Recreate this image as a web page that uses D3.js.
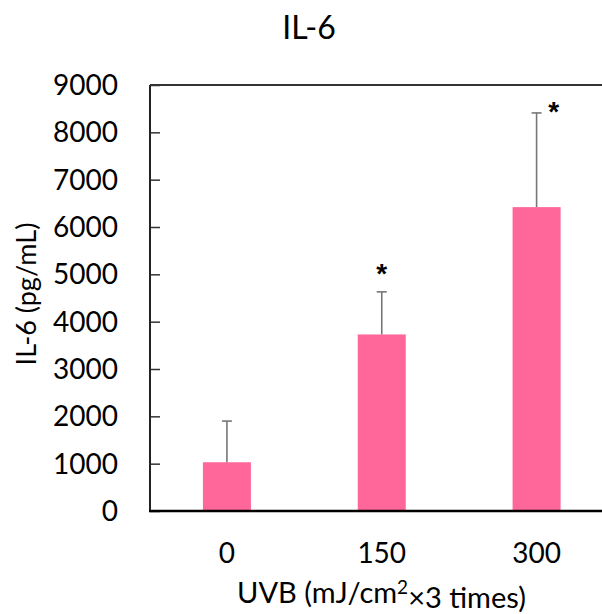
<!DOCTYPE html>
<html>

<head>
    <meta charset="utf-8">
    <style>
        body {
            margin: 0;
            background: #fff;
        }

        svg {
            display: block;
            font-family: Lato, 'Open Sans', sans-serif;
        }
    </style>
</head>

<body>
    <svg width="602" height="614"></svg>
</body>

<script src="https://d3js.org/d3.v7.min.js"></script>

<script>

    // chart data
    let doses = ["0", "150", "300"];
    let means = [1030, 3730, 6420];
    let sds = [870, 900, 1990];
    let significant = [false, true, true];
    let yTicks = [0, 1000, 2000, 3000, 4000, 5000, 6000, 7000, 8000, 9000];

    let rows = doses.map((d, i) => ({ dose: d, mean: means[i], sd: sds[i], sig: significant[i] }));

    let svg = d3.select("svg");

    let margin = { left: 150, top: 85, bottom: 511 };

    // the plot runs past the right edge of the picture, like the original
    let x = d3.scaleBand()
        .domain(doses)
        .range([149.5, 614])
        .paddingInner(0.69)
        .paddingOuter(0.345);

    let y = d3.scaleLinear()
        .domain([0, 9000])
        .range([margin.bottom, margin.top]);

    // bars
    svg.append("g")
        .selectAll("rect")
        .data(rows)
        .join("rect")
        .attr("x", d => x(d.dose))
        .attr("width", x.bandwidth())
        .attr("y", d => y(d.mean))
        .attr("height", d => y(0) - y(d.mean))
        .style("fill", "#ff6699");

    // error bars (upper only)
    let err = svg.append("g")
        .style("stroke", "#777")
        .style("stroke-width", 1.6);

    err.selectAll(".stem")
        .data(rows)
        .join("line")
        .attr("class", "stem")
        .attr("x1", d => x(d.dose) + x.bandwidth() / 2)
        .attr("x2", d => x(d.dose) + x.bandwidth() / 2)
        .attr("y1", d => y(d.mean))
        .attr("y2", d => y(d.mean + d.sd));

    err.selectAll(".cap")
        .data(rows)
        .join("line")
        .attr("class", "cap")
        .attr("x1", d => x(d.dose) + x.bandwidth() / 2 - 5)
        .attr("x2", d => x(d.dose) + x.bandwidth() / 2 + 5)
        .attr("y1", d => y(d.mean + d.sd))
        .attr("y2", d => y(d.mean + d.sd));

    // asterisks: above the cap if there is room, else up and to the right of it
    let roomAbove = d => y(d.mean + d.sd) - 40 > margin.top;

    svg.append("g")
        .selectAll("text")
        .data(rows.filter(d => d.sig))
        .join("text")
        .attr("x", d => {
            let cx = x(d.dose) + x.bandwidth() / 2;
            return roomAbove(d) ? cx : cx + 17;
        })
        .attr("y", d => {
            let top = y(d.mean + d.sd);
            return roomAbove(d) ? top - 25 + 16 : top - 8 + 16;
        })
        .attr("text-anchor", "middle")
        .style("font-family", "'Liberation Sans', Arial, sans-serif")
        .style("font-weight", "bold")
        .style("font-size", "28px")
        .style("fill", "#000")
        .text("*");

    // y axis, ticks pointing inward
    let yAxis = svg.append("g")
        .attr("transform", "translate(" + margin.left + ",0)")
        .call(d3.axisRight(y).tickValues(yTicks).tickSize(10).tickFormat(""));

    yAxis.select(".domain").remove();
    yAxis.selectAll(".tick line")
        .style("stroke", "#333")
        .style("stroke-width", 1.5);

    svg.append("g")
        .selectAll("text")
        .data(yTicks)
        .join("text")
        .attr("x", 118)
        .attr("y", d => y(d))
        .attr("dy", "0.36em")
        .attr("text-anchor", "end")
        .style("font-size", "28px")
        .style("fill", "#000")
        .text(d => d);

    // axis lines and top border
    svg.append("line")
        .attr("x1", margin.left).attr("x2", margin.left)
        .attr("y1", y(9000)).attr("y2", y(0))
        .style("stroke", "#222").style("stroke-width", 2);

    svg.append("line")
        .attr("x1", margin.left).attr("x2", 614)
        .attr("y1", y(9000)).attr("y2", y(9000))
        .style("stroke", "#333").style("stroke-width", 2);

    svg.append("line")
        .attr("x1", margin.left - 1).attr("x2", 614)
        .attr("y1", y(0)).attr("y2", y(0))
        .style("stroke", "#000").style("stroke-width", 2.5);

    // x tick labels
    svg.append("g")
        .selectAll("text")
        .data(doses)
        .join("text")
        .attr("x", d => x(d) + x.bandwidth() / 2)
        .attr("y", 563)
        .attr("text-anchor", "middle")
        .style("font-size", "28px")
        .style("fill", "#000")
        .text(d => d);

    // x title with superscript
    let xt = svg.append("text")
        .attr("x", 381.5)
        .attr("y", 603)
        .attr("text-anchor", "middle")
        .style("font-size", "29px")
        .style("fill", "#000");
    xt.append("tspan").text("UVB (mJ/cm");
    xt.append("tspan").attr("dy", "-0.45em").style("font-size", "19px").text("2");
    xt.append("tspan").attr("dy", "0.45em").text("×3 times)");

    // y title
    svg.append("text")
        .attr("transform", "translate(36,294) rotate(-90)")
        .attr("text-anchor", "middle")
        .style("font-size", "27px")
        .style("fill", "#000")
        .text("IL-6 (pg/mL)");

    // chart title
    svg.append("text")
        .attr("x", 309)
        .attr("y", 39)
        .attr("text-anchor", "middle")
        .style("font-size", "32px")
        .style("fill", "#000")
        .text("IL-6");

</script>

</html>
